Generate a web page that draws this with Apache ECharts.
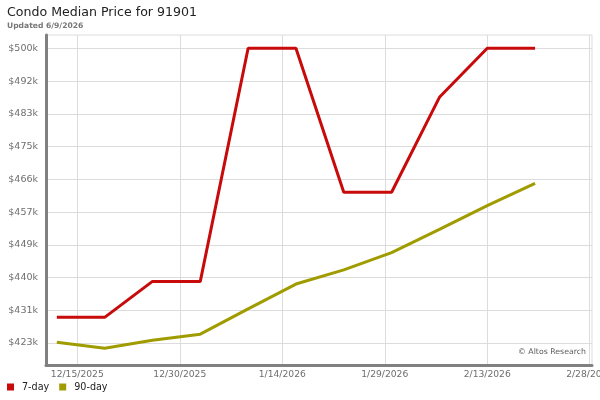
<!DOCTYPE html>
<html>
<head>
<meta charset="utf-8">
<script src="https://cdn.jsdelivr.net/npm/echarts@6/dist/echarts.min.js"></script>
<style>
  html, body { margin: 0; padding: 0; background: #fff; }
  #chart { width: 600px; height: 400px; }
</style>
</head>
<body>
<div id="chart"></div>
<script>
// weekly points, values in $k
var dates = ['2025-12-12', '2025-12-19', '2025-12-26', '2026-01-02', '2026-01-09', '2026-01-16',
             '2026-01-23', '2026-01-30', '2026-02-06', '2026-02-13', '2026-02-20'];
var sevenDay = [429.7, 429.7, 439.1, 439.1, 500, 500, 462.4, 462.4, 487.2, 500, 500];
var ninetyDay = [423.2, 421.6, 423.7, 425.3, 431.9, 438.4, 442.1, 446.6, 452.7, 458.9, 464.7];

var yTickValues = [423, 431.56, 440.11, 448.67, 457.22, 465.78, 474.33, 482.89, 491.44, 500];
var yTickLabels = ['$423k', '$431k', '$440k', '$449k', '$457k', '$466k', '$475k', '$483k', '$492k', '$500k'];
var xTickDates = ['2025-12-15', '2025-12-30', '2026-01-14', '2026-01-29', '2026-02-13', '2026-02-28'];

var fontFamily = '"DejaVu Sans", Verdana, sans-serif';
var labelColor = '#6e6e6e';

function toTime(s, h) {
    var p = s.split('-');
    return new Date(+p[0], +p[1] - 1, +p[2], h || 0).getTime();
}

function pairs(vals) {
    return vals.map(function (v, i) { return [toTime(dates[i]), v]; });
}

var xTicks = xTickDates.map(function (d) { return toTime(d); });

var myChart = echarts.init(document.getElementById('chart'));

var option = {
    animation: false,
    title: {
        text: 'Condo Median Price for 91901',
        subtext: 'Updated 6/9/2026',
        left: 2,
        top: 1,
        itemGap: 3,
        textStyle: { color: '#222', fontSize: 12.6, fontWeight: 'normal', fontFamily: fontFamily },
        subtextStyle: { color: '#777', fontSize: 7.6, fontWeight: 'bold', fontFamily: fontFamily }
    },
    legend: {
        left: 2,
        top: 377,
        itemWidth: 7,
        itemHeight: 7,
        itemGap: 10,
        icon: 'rect',
        textStyle: { color: '#222', fontSize: 9.6, fontFamily: fontFamily, padding: [0, 0, 0, 3] },
        data: ['7-day', '90-day']
    },
    grid: {
        left: 46,
        right: 8,
        top: 35,
        bottom: 35,
        outerBoundsMode: 'none',
        containLabel: false,
        show: true,
        borderColor: '#dcdcdc',
        borderWidth: 1
    },
    xAxis: {
        type: 'value',
        min: toTime('2025-12-10', 10),
        max: toTime('2026-02-28', 8),
        axisLine: { lineStyle: { color: '#808080', width: 3 } },
        axisTick: { show: false, customValues: xTicks },
        splitLine: { show: true, lineStyle: { color: '#dcdcdc', width: 1 } },
        axisLabel: {
            customValues: xTicks,
            color: labelColor,
            fontSize: 9.2,
            fontFamily: fontFamily,
            margin: 5,
            hideOverlap: false,
            formatter: function (v) {
                var d = new Date(v);
                return (d.getMonth() + 1) + '/' + d.getDate() + '/' + d.getFullYear();
            }
        }
    },
    yAxis: {
        type: 'value',
        min: 417.25,
        max: 503.48,
        axisLine: { show: true, lineStyle: { color: '#808080', width: 3 } },
        axisTick: { show: false, customValues: yTickValues },
        splitLine: { show: true, lineStyle: { color: '#dcdcdc', width: 1 } },
        axisLabel: {
            customValues: yTickValues,
            color: labelColor,
            fontSize: 9.5,
            fontFamily: fontFamily,
            margin: 8,
            formatter: function (v) {
                var best = 0;
                yTickValues.forEach(function (t, i) {
                    if (Math.abs(t - v) < Math.abs(yTickValues[best] - v)) best = i;
                });
                return yTickLabels[best];
            }
        }
    },
    graphic: [{
        type: 'text',
        right: 11,
        top: 346,
        z: 10,
        style: {
            text: '\u00a9 Altos Research',
            fill: '#5a5a5a',
            font: '7.8px ' + fontFamily,
            backgroundColor: '#fff',
            padding: [2, 3, 2, 3]
        }
    }],
    series: [{
        name: '7-day',
        type: 'line',
        data: pairs(sevenDay),
        showSymbol: false,
        symbol: 'none',
        color: '#c80a0a',
        lineStyle: { width: 3, color: '#c80a0a' }
    }, {
        name: '90-day',
        type: 'line',
        data: pairs(ninetyDay),
        showSymbol: false,
        symbol: 'none',
        color: '#a09c00',
        lineStyle: { width: 3, color: '#a09c00' }
    }]
};
myChart.setOption(option);
</script>
</body>
</html>
